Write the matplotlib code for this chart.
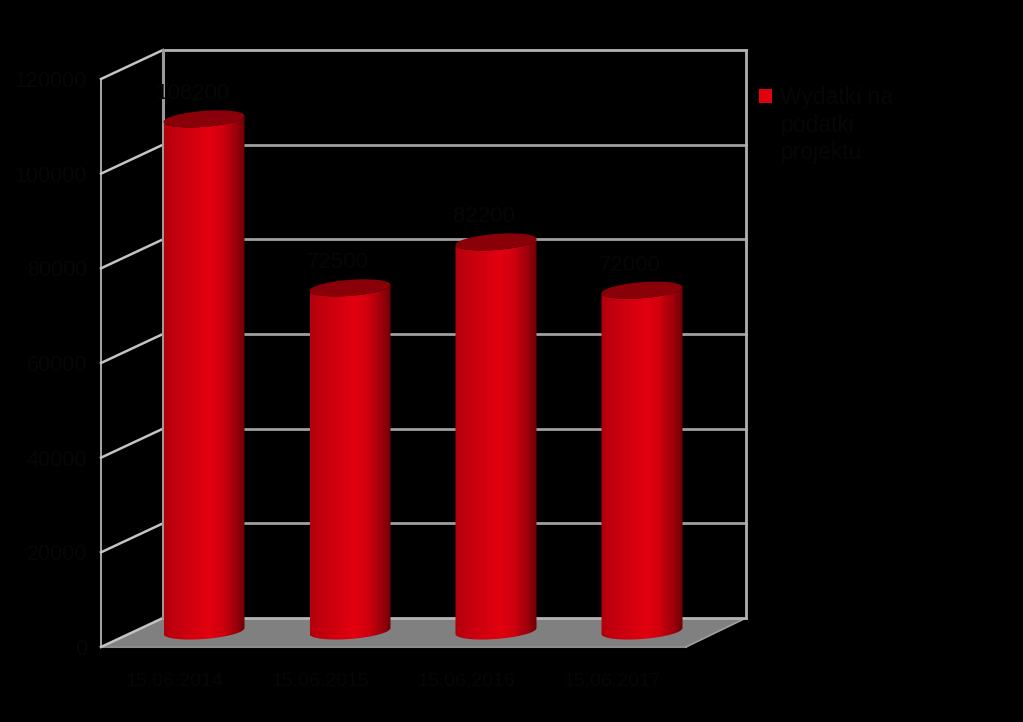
import numpy as np
import matplotlib
matplotlib.use("Agg")
import matplotlib.pyplot as plt
from matplotlib.colors import LinearSegmentedColormap
from matplotlib.patches import Polygon, Patch

categories = ["15.06.2014", "15.06.2015", "15.06.2016", "15.06.2017"]
values = [108200, 72500, 82200, 72000]
value_labels = ["108200", "72500", "82200", "72000"]
yticks = [0, 20000, 40000, 60000, 80000, 100000, 120000]
legend_lines = ["Wydatki na", "podatki", "projektu"]

W, H = 1023, 722
TXT = "#070707"
GRID = "#a0a0a0"
plt.rcParams["font.family"] = "Liberation Sans"

fig = plt.figure(figsize=(W / 100, H / 100), dpi=100, facecolor="black")
ax = fig.add_axes([0, 0, 1, 1], facecolor="black")
ax.axis("off")

# scales: pixels per category and pixels per unit of value on the back wall
PX_CAT = 146.0
PX_VAL = 568.0 / 120000
ZERO_X, ZERO_Y = 204.0, 618.0
ax.set_xlim(-ZERO_X / PX_CAT, (W - ZERO_X) / PX_CAT)
ax.set_ylim(-(H - ZERO_Y) / PX_VAL, ZERO_Y / PX_VAL)

dx = lambda p: p / PX_CAT
dy = lambda p: p / PX_VAL
WALL_L, WALL_R = dx(163 - ZERO_X), dx(746 - ZERO_X)
DX, DY = dx(-62), dy(-29)
FRONT_R = dx(686 - ZERO_X)

# floor
ax.add_patch(Polygon([(WALL_L + DX, DY), (WALL_L, 0), (WALL_R, 0), (FRONT_R, DY)],
                     closed=True, fc="#808080", ec="none", zorder=1))
ax.plot([WALL_L + DX, FRONT_R], [DY, DY], color="#8c8c8c", lw=1.5, zorder=1.1)
ax.plot([FRONT_R, WALL_R], [DY, 0], color="#a0a0a0", lw=1.2, zorder=1.1)

# walls and gridlines
for t in yticks:
    ax.plot([WALL_L, WALL_R], [t, t], color="#b4b4b4" if t in (0, 120000) else GRID, lw=2.0, zorder=2)
    ax.plot([WALL_L + DX, WALL_L], [t + DY, t], color="#c4c4c4", lw=1.8, zorder=2)
    ax.text(dx(87 - ZERO_X), t + DY - dy(2.5), str(t), ha="right", va="center",
            fontsize=15.5, color=TXT, zorder=5)
ax.plot([WALL_L, WALL_L], [0, 120000], color="#9a9a9a", lw=2.2, zorder=2)
ax.plot([WALL_R, WALL_R], [0, 120000], color="#b0b0b0", lw=2.0, zorder=2)
ax.plot([WALL_L + DX] * 2, [DY, 120000 + DY], color="#c4c4c4", lw=1.2, zorder=2)

# cylinders
cmap = LinearSegmentedColormap.from_list(
    "cyl", [(0, "#b0000c"), (0.12, "#c0000e"), (0.55, "#e2000f"), (0.72, "#d0000e"),
            (0.9, "#98000a"), (1, "#6e0006")])
grad = np.linspace(0, 1, 256).reshape(1, -1)
HALF_W = dx(40.5)
BASE = dy(-13)
A, B, TILT = 40.5, 8.0, 3.0


def rim(center, level, t):
    return (center + dx(A * np.cos(t)),
            level + dy(B * np.sin(t) + TILT * np.cos(t)))


t_low = np.linspace(np.pi, 2 * np.pi, 60)
t_all = np.linspace(0, 2 * np.pi, 120)
for i, v in enumerate(values):
    top = v + BASE
    bx, by = rim(i, BASE, t_low)
    tx, ty = rim(i, top, t_low[::-1])
    body = Polygon(np.r_[np.c_[bx, by], np.c_[tx, ty]], closed=True, fc="none", ec="none", zorder=3)
    ax.add_patch(body)
    im = ax.imshow(grad, cmap=cmap, aspect="auto", zorder=3,
                   extent=(i - HALF_W, i + HALF_W, BASE - dy(12), top + dy(12)))
    im.set_clip_path(body)
    ex, ey = rim(i, top, t_all)
    ax.fill(ex, ey, color="#8a0008", zorder=3.5, lw=0)
    ax.text(i + dx(-12), top + dy(25), value_labels[i], ha="center", va="center",
            fontsize=16, color=TXT, zorder=5)
    ax.text(i + dx(-30), DY - dy(34), categories[i], ha="center", va="center",
            fontsize=14, color=TXT, zorder=5)

# imshow resets limits, restore them
ax.set_xlim(-ZERO_X / PX_CAT, (W - ZERO_X) / PX_CAT)
ax.set_ylim(-(H - ZERO_Y) / PX_VAL, ZERO_Y / PX_VAL)

handles = [Patch(fc="#e2000f" if k == 0 else "none", ec="none", label=line)
           for k, line in enumerate(legend_lines)]
leg = ax.legend(handles=handles, loc="upper left", bbox_to_anchor=(759 / W, 1 - 86 / H),
                frameon=False, fontsize=16.5, handlelength=0.57, handleheight=0.57,
                handletextpad=0.35, labelcolor=TXT, labelspacing=0.2,
                borderpad=0, borderaxespad=0)

fig.savefig("out.png", dpi=100, facecolor="black")
